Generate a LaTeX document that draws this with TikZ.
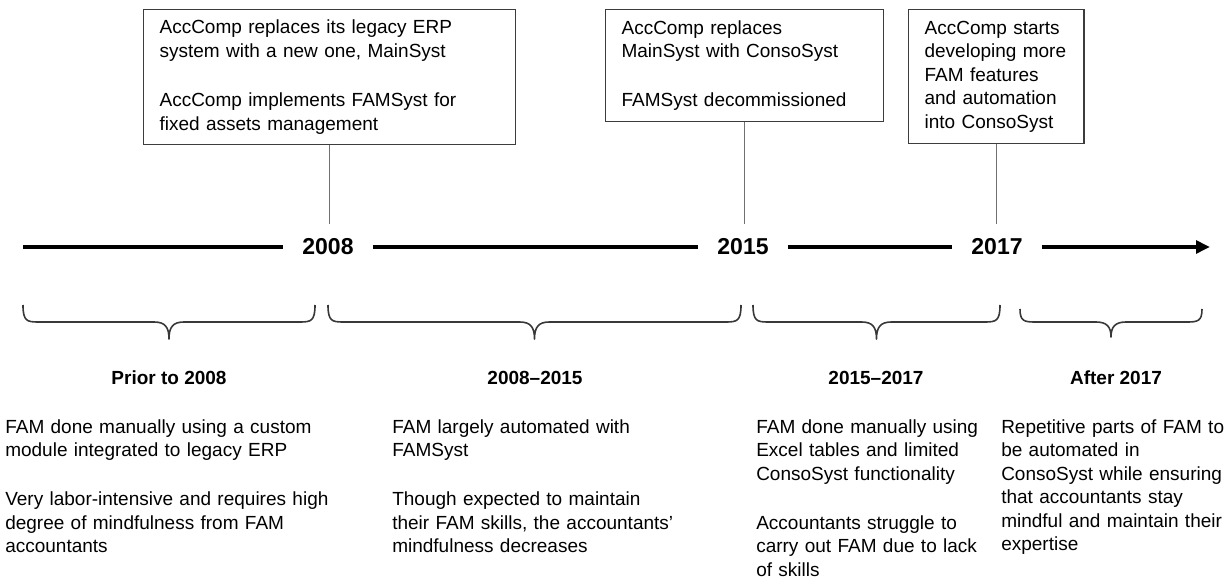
\documentclass[tikz,border=0pt]{standalone}
\usepackage{fontspec}
\setmainfont{Liberation Sans}
\usetikzlibrary{arrows.meta}
\definecolor{boxgray}{HTML}{3C3C3C}
\definecolor{stemgray}{HTML}{707070}
\definecolor{bracegray}{HTML}{383838}
% curly brace opening downward: #1 x-left, #2 x-right, #3 y-top of arms, #4 y of bar, #5 y of tip
\newcommand\drawperiod[5]{%
  \pgfmathsetmacro\pmid{(#1+#2)/2}%
  \draw[period] (#1,#3) .. controls (#1,{#4-1}) and ({#1+4},#4) .. ({#1+15},#4)
    -- ({\pmid-15},#4) .. controls ({\pmid-4},#4) and (\pmid,{#4+5}) .. (\pmid,#5)
    .. controls (\pmid,{#4+5}) and ({\pmid+4},#4) .. ({\pmid+15},#4)
    -- ({#2-15},#4) .. controls ({#2-4},#4) and (#2,{#4-1}) .. (#2,#3);}
\begin{document}
\begin{tikzpicture}[x=0.75pt,y=-0.75pt,
  bodyfont/.style={font=\fontsize{14.25pt}{17.6pt}\selectfont},
  body/.style={bodyfont, align=left, inner sep=0pt, anchor=base west},
  event/.style={bodyfont, draw=boxgray, line width=0.9pt, rectangle, anchor=north west,
    inner xsep=12pt, inner ysep=0pt, align=left},
  year/.style={font=\fontsize{17.25pt}{20pt}\selectfont\bfseries, inner xsep=14pt, inner ysep=11pt},
  head/.style={font=\fontsize{14.25pt}{17.6pt}\selectfont\bfseries, inner sep=0pt, anchor=base},
  timeline/.style={line width=2.6pt, black},
  stem/.style={draw=stemgray, line width=0.8pt},
  period/.style={draw=bracegray, line width=1.2pt, line join=round}
]
\useasboundingbox (0,0) rectangle (1231,580);

% event boxes
\node[event, text width=255pt, minimum height=101.25pt] (b1) at (143,9)
  {AccComp replaces its legacy ERP\\system with a new one, MainSyst\\[19.5pt]AccComp implements FAMSyst for\\fixed assets management};
\node[event, text width=184.5pt, minimum height=84pt] (b2) at (605,9)
  {AccComp replaces\\MainSyst with ConsoSyst\\[19.5pt]FAMSyst decommissioned};
\node[event, text width=107.5pt, minimum height=100.5pt] (b3) at (908,9)
  {AccComp starts\\developing more\\FAM features\\and automation\\into ConsoSyst};

% timeline
\node[year] (y1) at (328,247) {2008};
\node[year] (y2) at (743,247) {2015};
\node[year] (y3) at (997,247) {2017};
\coordinate (tl0) at (23,247);
\coordinate (tl1) at (1210,247);
\draw[timeline] (tl0) -- (y1.west);
\draw[timeline] (y1.east) -- (y2.west);
\draw[timeline] (y2.east) -- (y3.west);
\draw[timeline, -{Triangle[length=10.5pt,width=9.5pt]}] (y3.east) -- (tl1);

% stems
\draw[stem] (b1.south) -- (b1.south |- y1.north);
\draw[stem] (b2.south) -- (b2.south |- y2.north);
\draw[stem] (b3.south) -- (b3.south |- y3.north);

% braces
\drawperiod{23}{315}{305}{322}{339}
\drawperiod{328}{741}{305}{322}{339}
\drawperiod{753}{1000}{305}{322}{339}
\drawperiod{1020}{1202}{309}{322}{337}

% headings
\node[head] (h1) at (169,385) {Prior to 2008};
\node[head] (h2) at (535,385) {2008–2015};
\node[head] (h3) at (876,385) {2015–2017};
\node[head] (h4) at (1116,385) {After 2017};

% column texts
\node[body, text width=277pt] (c1) at (5,433.5)
  {FAM done manually using a custom\\module integrated to legacy ERP\\[19pt]Very labor-intensive and requires high\\degree of mindfulness from FAM\\accountants};
\node[body, text width=255pt] (c2) at (392,433.5)
  {FAM largely automated with\\FAMSyst\\[19pt]Though expected to maintain\\their FAM skills, the accountants’\\mindfulness decreases};
\node[body, text width=180pt] (c3) at (756,433.5)
  {FAM done manually using\\Excel tables and limited\\ConsoSyst functionality\\[19pt]Accountants struggle to\\carry out FAM due to lack\\of skills};
\node[body, text width=168pt] (c4) at (1001,433.5)
  {Repetitive parts of FAM to\\be automated in\\ConsoSyst while ensuring\\that accountants stay\\mindful and maintain their\\expertise};
\end{tikzpicture}
\end{document}
